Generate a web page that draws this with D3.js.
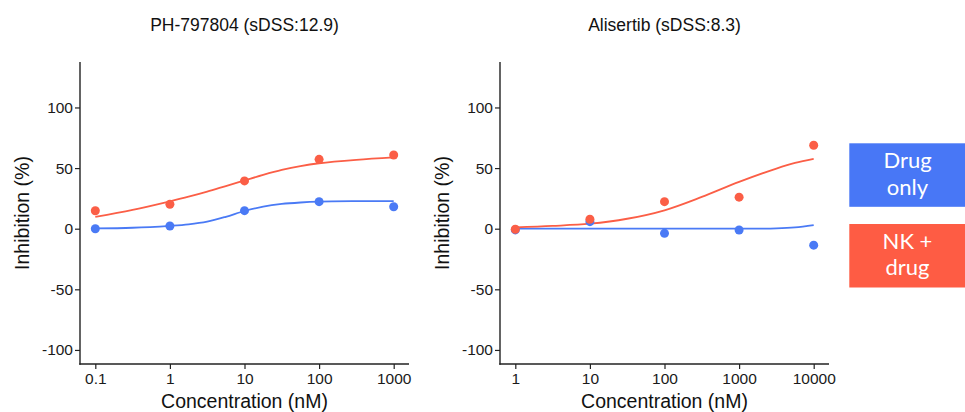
<!DOCTYPE html>
<html><head><meta charset="utf-8">
<script src="https://cdn.jsdelivr.net/npm/d3@7/dist/d3.min.js"></script>
<style>
html,body{margin:0;padding:0;background:#fff;}
svg{display:block;}
</style></head>
<body>
<svg id="chart" width="965" height="412"></svg>
<script>
// ---- data ----
const titles = ["PH-797804 (sDSS:12.9)", "Alisertib (sDSS:8.3)"];
const seriesNames = ["Drug only", "NK + drug"];
const yTicks = [-100, -50, 0, 50, 100];
const yTickLabels = ["-100", "-50", "0", "50", "100"];

const concLeft = [0.1, 1, 10, 100, 1000];
const leftDrugOnly = [0, 2.2, 14.9, 22.3, 18.1];
const leftNKDrug = [14.8, 20.2, 39.4, 57.2, 60.8];
const leftFitConc = [0.1, 0.316, 1, 1.78, 3.16, 5.62, 10, 17.8, 31.6, 56.2, 100, 316, 1000];
const leftFitDrugOnly = [0.2, 0.8, 2.4, 3.6, 5.8, 9.8, 14.6, 18.2, 20.4, 21.6, 22.3, 22.7, 22.8];
const leftFitNKDrug = [9.7, 15.5, 22.6, 26.4, 30.6, 35.2, 39.8, 44.4, 48.5, 51.7, 54.0, 56.8, 58.8];
const leftXTicks = ["0.1", "1", "10", "100", "1000"];

const concRight = [1, 10, 100, 1000, 10000];
const rightDrugOnly = [-1.0, 5.8, -3.8, -1.1, -13.6];
const rightNKDrug = [-0.5, 7.8, 22.3, 26.0, 68.8];
const rightFitConc = [1, 3.16, 10, 31.6, 100, 316, 1000, 3162, 5623, 10000];
const rightFitDrugOnly = [0, 0, 0, 0, 0, 0, 0, 0.3, 1.1, 3.0];
const rightFitNKDrug = [1.1, 2.3, 4.1, 8.2, 15.2, 26.2, 38.6, 49.6, 54.3, 57.6];
const rightXTicks = ["1", "10", "100", "1000", "10000"];

const panels = [
  {title: titles[0], conc: concLeft, pts: [leftDrugOnly, leftNKDrug], fitConc: leftFitConc, fits: [leftFitDrugOnly, leftFitNKDrug], ticks: leftXTicks},
  {title: titles[1], conc: concRight, pts: [rightDrugOnly, rightNKDrug], fitConc: rightFitConc, fits: [rightFitDrugOnly, rightFitNKDrug], ticks: rightXTicks}
];

// ---- style ----
const colors = ["#4a7af5", "#fb5e46"];
const legendColors = ["#4877f6", "#fe5c44"];
const font = "'Liberation Sans', Arial, Helvetica, sans-serif";

const svg = d3.select("#chart");
const panelLeft = [80, 500];
const panelW = 329;
const plotTop = 62, plotBottom = 364;

panels.forEach((p, i) => {
  const x0 = panelLeft[i];
  const lo = Math.log10(p.conc[0]), hi = Math.log10(p.conc[p.conc.length - 1]);
  const pad = (hi - lo) * 0.0513;
  const x = d3.scaleLog().domain([Math.pow(10, lo - pad), Math.pow(10, hi + pad)]).range([x0, x0 + panelW]);
  const y = d3.scaleLinear().domain([-111.6, 137.5]).range([plotBottom, plotTop]);
  const g = svg.append("g");

  // title
  g.append("text").attr("x", x0 + panelW / 2).attr("y", 31)
    .attr("text-anchor", "middle").attr("font-family", font).attr("font-size", 17.5)
    .attr("fill", "#111").text(p.title);

  // axes
  const yAxis = d3.axisLeft(y).tickValues(yTicks).tickFormat((d, k) => yTickLabels[k]).tickSize(5).tickPadding(2).tickSizeOuter(0);
  const ya = g.append("g").attr("transform", `translate(${x0},0)`).call(yAxis);
  const xAxis = d3.axisBottom(x).tickValues(p.conc).tickFormat((d, k) => p.ticks[k]).tickSize(5).tickPadding(4).tickSizeOuter(0);
  const xa = g.append("g").attr("transform", `translate(0,${plotBottom})`).call(xAxis);
  [ya, xa].forEach(a => {
    a.select(".domain").attr("stroke", "#222").attr("stroke-width", 1.4);
    a.selectAll(".tick line").attr("stroke", "#222").attr("stroke-width", 1.2);
    a.selectAll(".tick text").attr("font-family", font).attr("font-size", 15.5).attr("fill", "#1a1a1a");
  });
  ya.select(".domain").attr("d", `M0,${plotTop}V${plotBottom + 0.7}`);
  xa.select(".domain").attr("d", `M${x0 - 0.7},0H${x0 + panelW}`);

  // axis titles
  g.append("text").attr("x", x0 + panelW / 2).attr("y", 408)
    .attr("text-anchor", "middle").attr("font-family", font).attr("font-size", 19.5)
    .attr("fill", "#111").text("Concentration (nM)");
  g.append("text").attr("transform", `translate(${x0 - 58},${(plotTop + plotBottom) / 2}) rotate(-90)`)
    .attr("text-anchor", "middle").attr("dominant-baseline", "central").attr("font-family", font).attr("font-size", 19.5)
    .attr("fill", "#111").text("Inhibition (%)");

  // fitted curves
  const line = d3.line().x(d => x(d[0])).y(d => y(d[1])).curve(d3.curveCatmullRom.alpha(0.5));
  p.fits.forEach((f, s) => {
    g.append("path").datum(p.fitConc.map((c, k) => [c, f[k]]))
      .attr("d", line).attr("fill", "none").attr("stroke", colors[s]).attr("stroke-width", 1.8);
  });
  // points
  p.pts.forEach((vals, s) => {
    g.selectAll(null).data(p.conc.map((c, k) => [c, vals[k]])).enter().append("circle")
      .attr("cx", d => x(d[0])).attr("cy", d => y(d[1])).attr("r", 4.5).attr("fill", colors[s]);
  });
});

// ---- legend boxes ----
const legendLines = [["Drug", "only"], ["NK +", "drug"]];
const boxTop = [143.3, 224];
const boxH = 63.5;
seriesNames.forEach((name, s) => {
  const lg = svg.append("g");
  lg.append("rect").attr("x", 849.3).attr("y", boxTop[s]).attr("width", 120).attr("height", boxH).attr("fill", legendColors[s]);
  const cy = boxTop[s] + boxH / 2;
  const t = lg.append("text").attr("text-anchor", "middle").attr("font-family", "Lato, 'Open Sans', sans-serif")
    .attr("font-size", 22).attr("fill", "#fff").attr("aria-label", name);
  t.append("tspan").attr("x", 907.5).attr("y", cy - 7).text(legendLines[s][0]);
  t.append("tspan").attr("x", 907.5).attr("y", cy + 19.5).text(legendLines[s][1]);
});
</script>
</body></html>
